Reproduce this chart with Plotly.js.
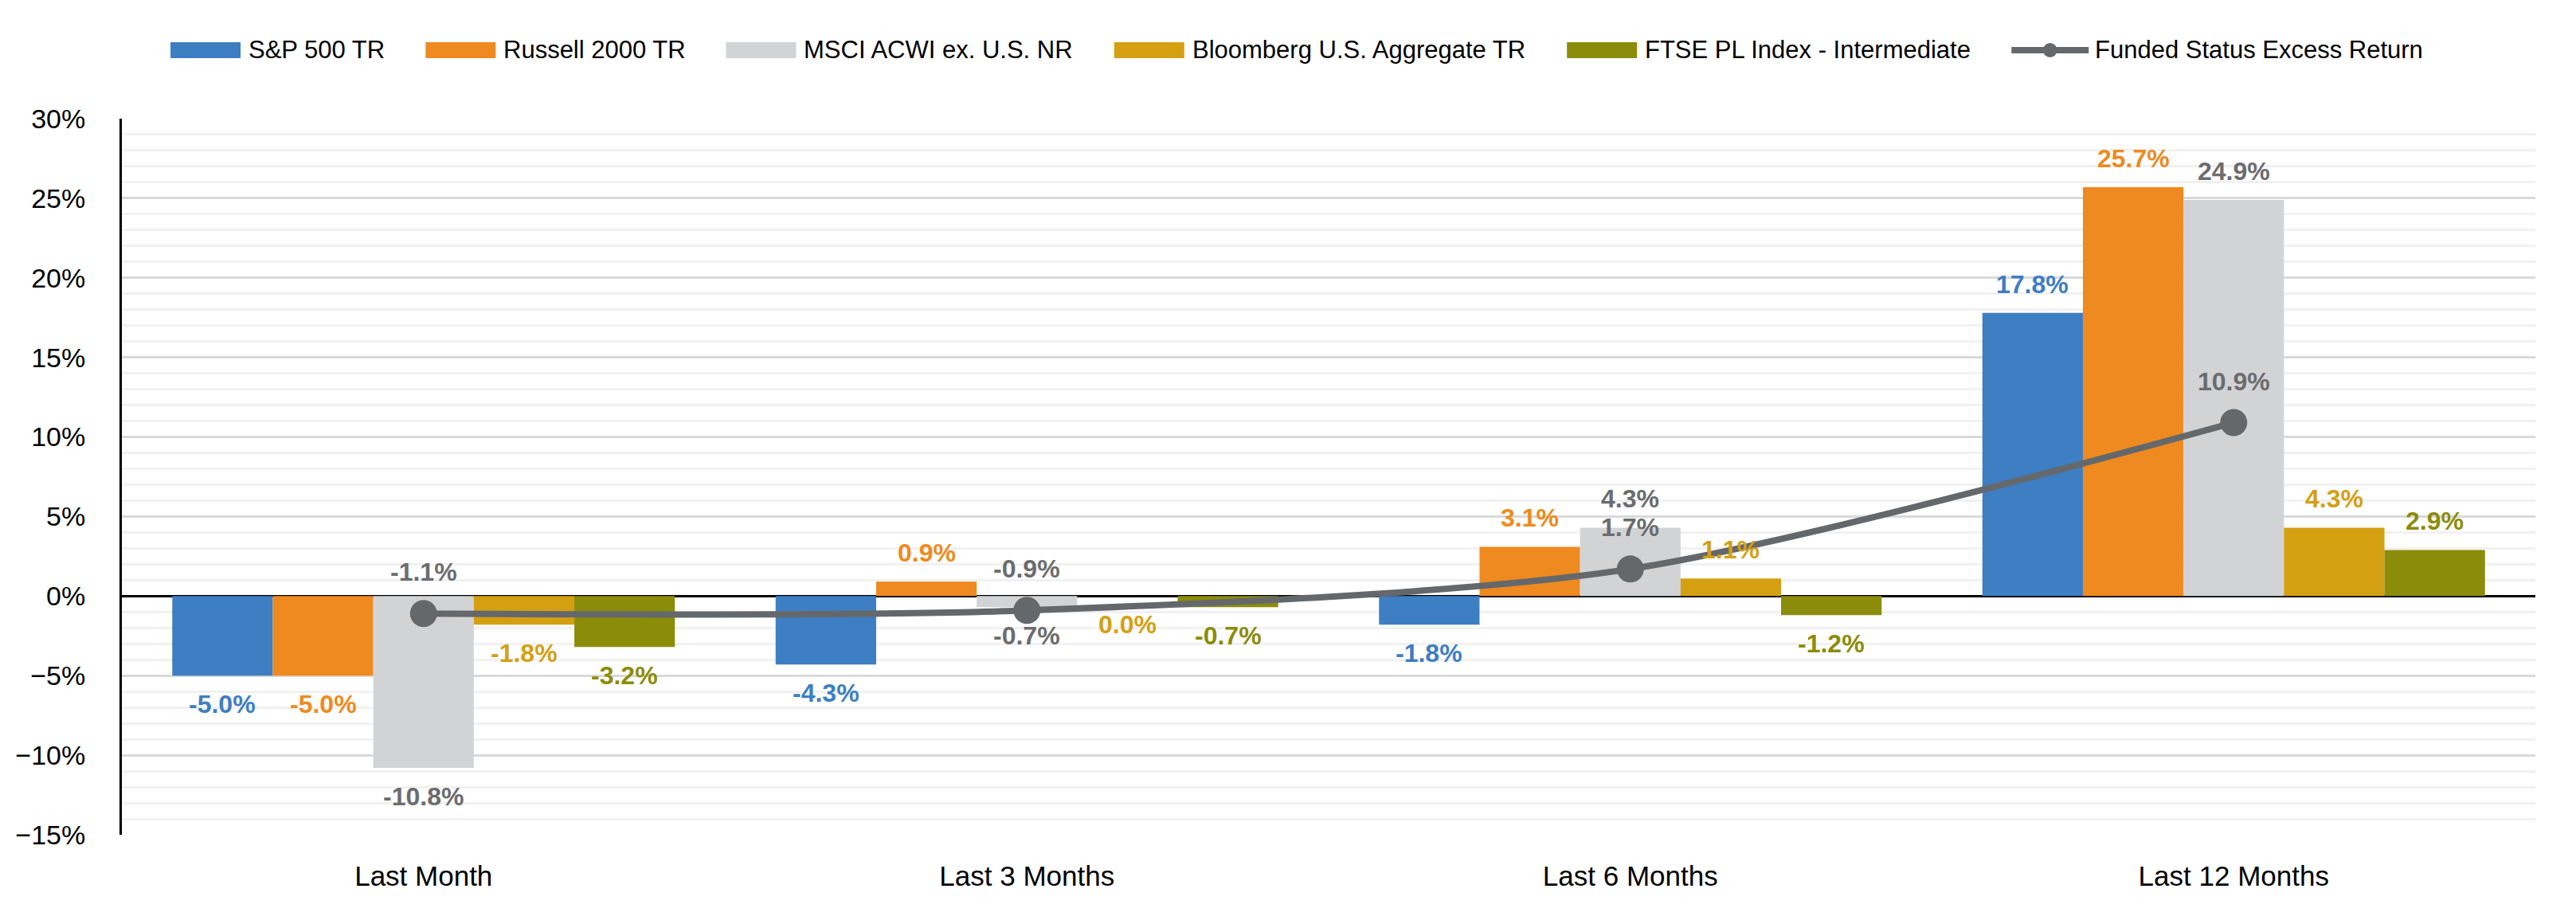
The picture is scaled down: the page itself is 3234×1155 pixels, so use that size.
<!DOCTYPE html>
<html>
<head>
<meta charset="utf-8">
<script src="https://cdn.plot.ly/plotly-3.0.1.min.js"></script>
<style>html,body{margin:0;padding:0;background:#fff;}#chart{width:3234px;height:1155px;}</style>
</head>
<body>
<div id="chart"></div>
<script>
// ---- data ----
const categories = ['Last Month', 'Last 3 Months', 'Last 6 Months', 'Last 12 Months'];
const seriesNames = ['S&P 500 TR', 'Russell 2000 TR', 'MSCI ACWI ex. U.S. NR', 'Bloomberg U.S. Aggregate TR', 'FTSE PL Index - Intermediate'];
const lineName = 'Funded Status Excess Return';
const sp500     = [-0.050, -0.043, -0.018, 0.178];
const russell   = [-0.050,  0.009,  0.031, 0.257];
const msci      = [-0.108, -0.007,  0.043, 0.249];
const bloomberg = [-0.018,  0.000,  0.011, 0.043];
const ftse      = [-0.032, -0.007, -0.012, 0.029];
const funded    = [-0.011, -0.009,  0.017, 0.109];
const yTickVals = [-0.15, -0.10, -0.05, 0, 0.05, 0.10, 0.15, 0.20, 0.25, 0.30];

// ---- styles ----
const barColors   = ['#3e7ec3', '#ee8a20', '#d2d3d5', '#d4a012', '#8b8c0a'];
const labelColors = ['#3e7ec3', '#ee8a20', '#6b6c6e', '#d4a012', '#8b8c0a'];
const lineColor = '#65686b';
const seriesValues = [sp500, russell, msci, bloomberg, ftse];

const W = 3234, H = 1155;
const M = {l: 153, r: 51, t: 149, b: 107};
const PW = W - M.l - M.r, PH = H - M.t - M.b;
const bargap = 0.167;
const pxX = px => (px - M.l) / PW;
const pxY = py => (H - M.b - py) / PH;

const traces = seriesValues.map((vals, i) => ({
  type: 'bar', name: seriesNames[i], x: categories, y: vals,
  marker: {color: barColors[i], line: {width: 0}},
  showlegend: false, hoverinfo: 'skip'
}));
traces.push({
  type: 'scatter', mode: 'lines+markers', name: lineName, x: categories, y: funded,
  line: {color: lineColor, width: 8, shape: 'spline', smoothing: 0.8},
  marker: {color: lineColor, size: 34},
  showlegend: false, hoverinfo: 'skip'
});

const fmt = v => (v * 100).toFixed(1) + '%';
const annotations = [];
const bw = (1 - bargap) / seriesValues.length;
seriesValues.forEach((vals, i) => {
  vals.forEach((v, j) => {
    annotations.push({
      xref: 'x', yref: 'y', x: j + (i - (seriesValues.length - 1) / 2) * bw, y: v,
      yshift: v > 0 ? 36 : -36, text: fmt(v), showarrow: false,
      xanchor: 'center', yanchor: 'middle',
      font: {family: '"Liberation Sans", Arial, sans-serif', size: 32, color: labelColors[i], weight: 'bold'}
    });
  });
});
funded.forEach((v, j) => {
  annotations.push({
    xref: 'x', yref: 'y', x: j, y: v, yshift: 52, text: fmt(v), showarrow: false,
    xanchor: 'center', yanchor: 'middle',
    font: {family: '"Liberation Sans", Arial, sans-serif', size: 32, color: '#6b6c6e', weight: 'bold'}
  });
});

// ---- custom legend ----
const shapes = [];
const legSize = 31;
const cv = document.createElement('canvas').getContext('2d');
cv.font = legSize + 'px "Liberation Sans"';
let lx = 214;
const legY = 63;
seriesNames.forEach((n, i) => {
  shapes.push({type: 'rect', xref: 'paper', yref: 'paper', x0: pxX(lx), x1: pxX(lx + 88),
    y0: pxY(legY + 10), y1: pxY(legY - 10), fillcolor: barColors[i], line: {width: 0}, layer: 'above'});
  annotations.push({xref: 'paper', yref: 'paper', x: pxX(lx + 96), y: pxY(legY - 1), xanchor: 'left', yanchor: 'middle',
    text: n, showarrow: false, font: {family: '"Liberation Sans", Arial, sans-serif', size: legSize, color: '#000'}});
  lx += 96 + cv.measureText(n).width + 52;
});
shapes.push({type: 'line', xref: 'paper', yref: 'paper', x0: pxX(lx), x1: pxX(lx + 97),
  y0: pxY(legY), y1: pxY(legY), line: {color: lineColor, width: 8}, layer: 'above'});
shapes.push({type: 'circle', xref: 'paper', yref: 'paper', xsizemode: 'pixel', ysizemode: 'pixel',
  xanchor: pxX(lx + 48.5), yanchor: pxY(legY), x0: -9, x1: 9, y0: -9, y1: 9,
  fillcolor: lineColor, line: {width: 0}, layer: 'above'});
annotations.push({xref: 'paper', yref: 'paper', x: pxX(lx + 103), y: pxY(legY - 1), xanchor: 'left', yanchor: 'middle',
  text: lineName, showarrow: false, font: {family: '"Liberation Sans", Arial, sans-serif', size: legSize, color: '#000'}});

const layout = {
  width: W, height: H,
  margin: M,
  paper_bgcolor: '#fff', plot_bgcolor: '#fff',
  barmode: 'group', bargap: bargap, bargroupgap: 0,
  showlegend: false,
  xaxis: {
    type: 'category', showgrid: false, showline: false, zeroline: false, ticks: '',
    tickfont: {family: '"Liberation Sans", Arial, sans-serif', size: 35, color: '#000'},
    ticklabelstandoff: 28, fixedrange: true
  },
  yaxis: {
    range: [-0.15, 0.30], tickvals: yTickVals, tickformat: '.0%',
    showgrid: true, gridcolor: '#d9d9d9', gridwidth: 3,
    minor: {dtick: 0.01, showgrid: true, gridcolor: '#f1f1f1', gridwidth: 3, ticks: ''},
    zeroline: true, zerolinecolor: '#000', zerolinewidth: 3,
    showline: true, linecolor: '#000', linewidth: 3, ticks: '',
    tickfont: {family: '"Liberation Sans", Arial, sans-serif', size: 34, color: '#000'},
    ticklabelstandoff: 36, fixedrange: true
  },
  annotations: annotations,
  shapes: shapes
};
Plotly.newPlot('chart', traces, layout, {staticPlot: true, displayModeBar: false});
</script>
</body>
</html>
